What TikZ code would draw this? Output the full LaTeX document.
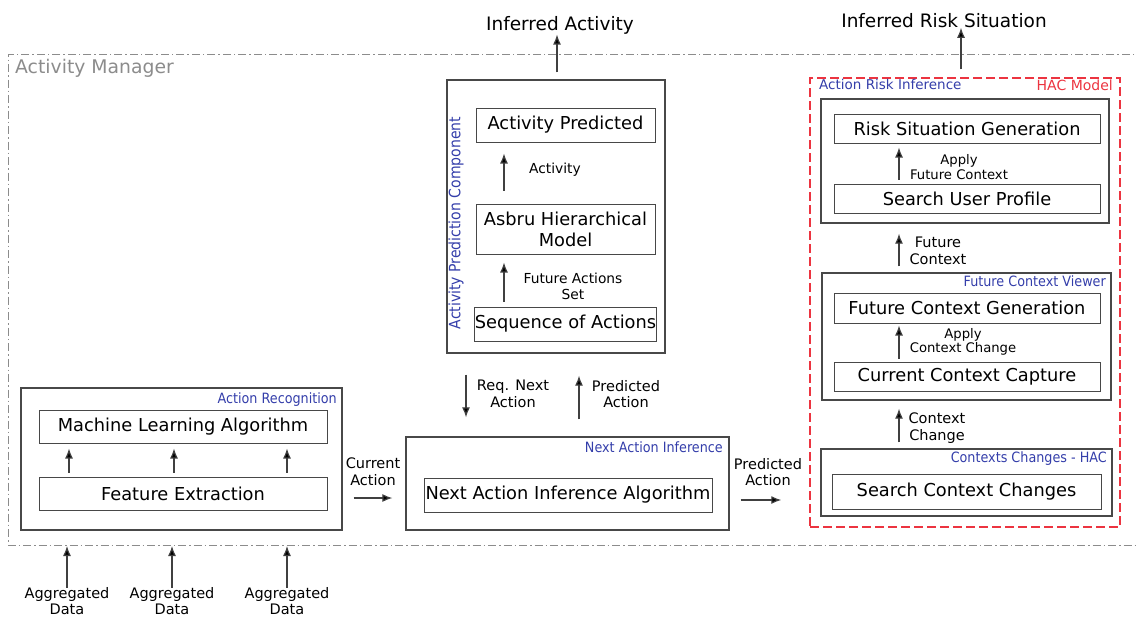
\documentclass[tikz,border=0pt]{standalone}
\usepackage{fontspec}
\setmainfont{DejaVu Sans}
\newfontfamily\condfont{DejaVu Sans Condensed}
\usepackage{xcolor}
\usepackage{tikz}
\usetikzlibrary{positioning,arrows.meta,calc}
\definecolor{tagblue}{RGB}{52,62,170}
\definecolor{hacred}{RGB}{236,52,64}
\definecolor{boxline}{RGB}{72,72,72}
\definecolor{mgrgray}{RGB}{140,140,140}

\begin{document}
\begin{tikzpicture}[
    x=1pt,y=-1pt,
    frame/.style={draw=boxline,line width=1.3pt,inner sep=0pt},
    box/.style={draw=boxline,line width=1pt,inner sep=0pt,align=center,font=\fontsize{17.8}{21}\selectfont},
    lbl/.style={align=center,inner sep=0pt,font=\fontsize{14.5}{16.8}\selectfont},
    tightlbl/.style={align=center,inner sep=0pt,font=\fontsize{13.2}{14.5}\selectfont},
    tag/.style={text=tagblue,inner sep=0pt,font=\condfont\fontsize{14.2}{16}\selectfont},
    toplbl/.style={inner sep=0pt,font=\fontsize{18.5}{22}\selectfont},
    arr/.style={draw=black!75,line width=1.2pt,-{Latex[length=10pt,width=8pt,fill=black]}}
  ]
    \useasboundingbox (0,0) rectangle (1137,619);

    % activity manager frame (right side runs off the page)
    \draw[mgrgray,line width=1pt,dash pattern=on 8pt off 3pt on 1.5pt off 3pt]
      (1145,54) -- (8,54) -- (8,545) -- (1145,545);
    \node[anchor=base west,inner sep=0pt,text=mgrgray,font=\fontsize{18.8}{22}\selectfont] (mgrtag) at (15,73.5) {Activity Manager};
    \coordinate (mgrbot) at (0,546);

    % action recognition
    \node[frame,minimum width=321pt,minimum height=142pt] (actrec) at (181.5,459) {};
    \node[tag,anchor=base east] (actrectag) at (337,403.5) {Action Recognition};
    \node[box,minimum width=288pt,minimum height=33pt] (mla) at (183,426.5) {Machine Learning Algorithm};
    \node[box,minimum width=288pt,minimum height=33pt] (feat) at (183,493.5) {Feature Extraction};
    \foreach \x in {69,174,287}
      \draw[arr,shorten <=4pt,shorten >=5pt] (feat.north -| \x,0) -- (mla.south -| \x,0);

    \node[lbl,font=\fontsize{14.5}{16}\selectfont] (agg1) at (67,601.5) {Aggregated\\Data};
    \node[lbl,font=\fontsize{14.5}{16}\selectfont] (agg2) at (172,601.5) {Aggregated\\Data};
    \node[lbl,font=\fontsize{14.5}{16}\selectfont] (agg3) at (287,601.5) {Aggregated\\Data};
    \foreach \n in {agg1,agg2,agg3}
      \draw[arr] (\n.north) -- (\n.north |- mgrbot);

    % next action inference
    \node[frame,minimum width=323pt,minimum height=93pt] (nai) at (567.5,483.5) {};
    \node[tag,anchor=base east] (naitag) at (723,452.7) {Next Action Inference};
    \node[box,minimum width=288pt,minimum height=34pt] (naialg) at (568,495) {Next Action Inference Algorithm};

    \node[lbl] (curact) at (373,472) {Current\\Action};
    \draw[arr,shorten <=11pt,shorten >=13pt] (actrec.east |- 0,498) -- (nai.west |- 0,498);

    % activity prediction component
    \node[frame,minimum width=218pt,minimum height=273pt] (apc) at (556,216.5) {};
    \node[tag,rotate=90,font=\condfont\fontsize{15.6}{17}\selectfont] (apctag) at (456,223) {Activity Prediction Component};
    \node[box,minimum width=179pt,minimum height=34pt] (actpred) at (565.5,125) {Activity Predicted};
    \node[box,minimum width=179pt,minimum height=50pt] (asbru) at (565.5,229) {Asbru Hierarchical\\Model};
    \node[box,minimum width=179pt,minimum height=34pt] (seq) at (565.5,324) {Sequence of Actions};
    \draw[arr,shorten <=13pt,shorten >=11pt] (asbru.north -| 504,0) -- (actpred.south -| 504,0);
    \draw[arr,shorten <=5pt,shorten >=8pt] (seq.north -| 504,0) -- (asbru.south -| 504,0);
    \node[lbl,font=\fontsize{13.8}{16}\selectfont] (actlbl) at (555,170) {Activity};
    \node[lbl,font=\fontsize{13.8}{16}\selectfont] (futlbl) at (573,286) {Future Actions\\Set};

    \node[toplbl,anchor=base] (infact) at (560,30.5) {Inferred Activity};
    \draw[arr,shorten <=7pt] (apc.north -| 557,0) -- (infact.south -| 557,0);

    \node[lbl] (reqlbl) at (513,394) {Req. Next\\Action};
    \node[lbl] (predlbl) at (626,394) {Predicted\\Action};
    \draw[arr,shorten <=21pt,shorten >=19pt] (apc.south -| 466,0) -- (nai.north -| 466,0);
    \draw[arr,shorten <=17pt,shorten >=22pt] (nai.north -| 579,0) -- (apc.south -| 579,0);

    % HAC model
    \node[draw=hacred,line width=1.5pt,dash pattern=on 9pt off 4pt,minimum width=310pt,minimum height=449pt,inner sep=0pt] (hac) at (965,302.5) {};
    \node[anchor=base east,inner sep=0pt,text=hacred,font=\fontsize{14}{16}\selectfont] (hactag) at (1113,90.7) {HAC Model};
    \node[anchor=base west,inner sep=0pt,text=tagblue,font=\fontsize{13.5}{16}\selectfont] (aritag) at (819,89.3) {Action Risk Inference};

    \node[lbl] (predlbl2) at (768,472) {Predicted\\Action};
    \draw[arr,shorten <=11pt,shorten >=28pt] (nai.east |- 0,500) -- (hac.west |- 0,500);

    \node[toplbl,anchor=base] (infrisk) at (944,27.3) {Inferred Risk Situation};
    \draw[arr,shorten <=8pt] (hac.north -| 961,0) -- (infrisk.south -| 961,0);

    % action risk inference
    \node[frame,minimum width=288pt,minimum height=124pt] (ari) at (965,161) {};
    \node[box,minimum width=266pt,minimum height=29pt] (risk) at (967,128.5) {Risk Situation Generation};
    \node[box,minimum width=266pt,minimum height=29pt] (sup) at (967,198.5) {Search User Profile};
    \draw[arr,shorten <=4pt,shorten >=4pt] (sup.north -| 899,0) -- (risk.south -| 899,0);
    \node[tightlbl] (applyfut) at (959,167) {Apply\\Future Context};

    % future context viewer
    \node[frame,minimum width=289pt,minimum height=127pt] (fcv) at (966.5,336.5) {};
    \node[tag,anchor=base east] (fcvtag) at (1106,286) {Future Context Viewer};
    \node[box,minimum width=266pt,minimum height=30pt] (fcg) at (967,308) {Future Context Generation};
    \node[box,minimum width=266pt,minimum height=29pt] (ccc) at (967,376.5) {Current Context Capture};
    \draw[arr,shorten <=3pt,shorten >=2pt] (ccc.north -| 899,0) -- (fcg.south -| 899,0);
    \node[tightlbl] (applyctx) at (963,342) {Apply\\Context Change};

    \draw[arr,shorten <=6pt,shorten >=10pt] (fcv.north -| 899,0) -- (ari.south -| 899,0);
    \node[lbl] (futctx) at (938,251) {Future\\Context};

    % contexts changes
    \node[frame,minimum width=291pt,minimum height=67pt] (cch) at (966.5,482.5) {};
    \node[tag,anchor=base east] (cchtag) at (1107,462.7) {Contexts Changes - HAC};
    \node[box,minimum width=269pt,minimum height=35pt] (sch) at (966.5,491.5) {Search Context Changes};
    \draw[arr,shorten <=6pt,shorten >=8pt] (cch.north -| 899,0) -- (fcv.south -| 899,0);
    \node[lbl] (ctxchg) at (937,428) {Context\\Change};
  \end{tikzpicture}
\end{document}
